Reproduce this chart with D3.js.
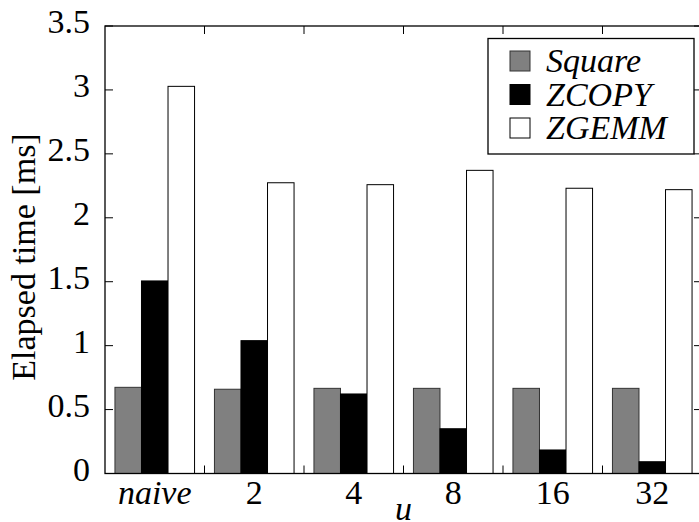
<!DOCTYPE html>
<html>
<head>
<meta charset="utf-8">
<script src="https://cdn.jsdelivr.net/npm/d3@7"></script>
<style>
  body { margin: 0; background: #fff; }
  svg { display: block; }
</style>
</head>
<body>
<svg width="699" height="522"></svg>
<script>
const groups = ['naive', '2', '4', '8', '16', '32'];
const series = ['Square', 'ZCOPY', 'ZGEMM'];
const colors = ['#808080', '#000000', '#ffffff'];
const square = [0.674, 0.659, 0.666, 0.666, 0.666, 0.666];
const zcopy = [1.506, 1.039, 0.622, 0.350, 0.184, 0.092];
const zgemm = [3.028, 2.274, 2.259, 2.371, 2.231, 2.220];
const yTicks = [0, 0.5, 1, 1.5, 2, 2.5, 3, 3.5];

const FONT = "'Liberation Serif', serif";

const svg = d3.select('svg');
const margin = { top: 26, right: -3, bottom: 48.5, left: 105 };
const width = 699, height = 522;
const innerWidth = width - margin.left - margin.right;
const innerHeight = height - margin.top - margin.bottom;

const values = [square, zcopy, zgemm];
const rows = groups.map((g, i) => ({ group: g, vals: series.map((s, j) => ({ key: s, idx: j, v: values[j][i] })) }));

const x0 = d3.scaleBand().domain(groups).range([0, innerWidth]).paddingInner(0.2).paddingOuter(0.1);
const x1 = d3.scaleBand().domain(series).range([0, x0.bandwidth()]);
const y = d3.scaleLinear().domain([0, 3.5]).range([innerHeight, 0]);

const g = svg.append('g').attr('transform', `translate(${margin.left},${margin.top})`);

function label(sel) {
  return sel.style('font-family', FONT).style('font-size', '34px').attr('fill', '#000');
}

// bars
g.selectAll('g.grp')
  .data(rows)
  .enter().append('g')
    .attr('transform', d => `translate(${x0(d.group)},0)`)
  .selectAll('rect')
  .data(d => d.vals)
  .enter().append('rect')
    .attr('x', d => x1(d.key))
    .attr('y', d => y(d.v))
    .attr('width', x1.bandwidth())
    .attr('height', d => innerHeight - y(d.v))
    .attr('fill', d => colors[d.idx])
    .attr('stroke', d => d.idx === 0 ? '#333' : '#000')
    .attr('stroke-width', 1);

// frame
g.append('rect')
  .attr('width', innerWidth).attr('height', innerHeight)
  .attr('fill', 'none').attr('stroke', '#000').attr('stroke-width', 1.3);

// y ticks (inward, mirrored)
const tl = 8;
yTicks.forEach(t => {
  g.append('line').attr('x1', 0).attr('x2', tl).attr('y1', y(t)).attr('y2', y(t)).attr('stroke', '#000');
  g.append('line').attr('x1', innerWidth).attr('x2', innerWidth - tl).attr('y1', y(t)).attr('y2', y(t)).attr('stroke', '#000');
  g.append('text')
    .attr('x', -15).attr('y', y(t) + 7)
    .attr('text-anchor', 'end')
    .call(label)
    .text(t);
});

// x ticks between groups
const step = x0.step();
groups.slice(1).forEach((d, i) => {
  const xp = (i + 1) * step;
  g.append('line').attr('x1', xp).attr('x2', xp).attr('y1', innerHeight).attr('y2', innerHeight - tl).attr('stroke', '#000');
  g.append('line').attr('x1', xp).attr('x2', xp).attr('y1', 0).attr('y2', tl).attr('stroke', '#000');
});

// x labels
g.selectAll('text.xl')
  .data(groups)
  .enter().append('text')
    .attr('class', 'xl')
    .attr('x', d => x0(d) + x0.bandwidth() / 2)
    .attr('y', innerHeight + 30)
    .attr('text-anchor', 'middle')
    .call(label)
    .style('font-style', d => d === 'naive' ? 'italic' : 'normal')
    .text(d => d);

g.append('text')
  .attr('x', innerWidth / 2).attr('y', innerHeight + 46)
  .attr('text-anchor', 'middle')
  .call(label)
  .style('font-style', 'italic')
  .text('u');

// y label
svg.append('text')
  .attr('transform', 'translate(35,257) rotate(-90)')
  .attr('text-anchor', 'middle')
  .call(label)
  .text('Elapsed time [ms]');

// legend
const lg = svg.append('g').attr('transform', 'translate(488,38.5)');
lg.append('rect').attr('width', 206).attr('height', 115.5)
  .attr('fill', '#fff').attr('stroke', '#000').attr('stroke-width', 1.3);
series.forEach((s, i) => {
  lg.append('rect')
    .attr('x', 22).attr('y', 12.5 + i * 33.5)
    .attr('width', 20).attr('height', 20)
    .attr('fill', colors[i]).attr('stroke', i === 0 ? '#333' : '#000');
  lg.append('text')
    .attr('x', 58).attr('y', 33.5 + i * 33.5)
    .call(label)
    .style('font-style', 'italic')
    .text(s);
});
</script>
</body>
</html>
